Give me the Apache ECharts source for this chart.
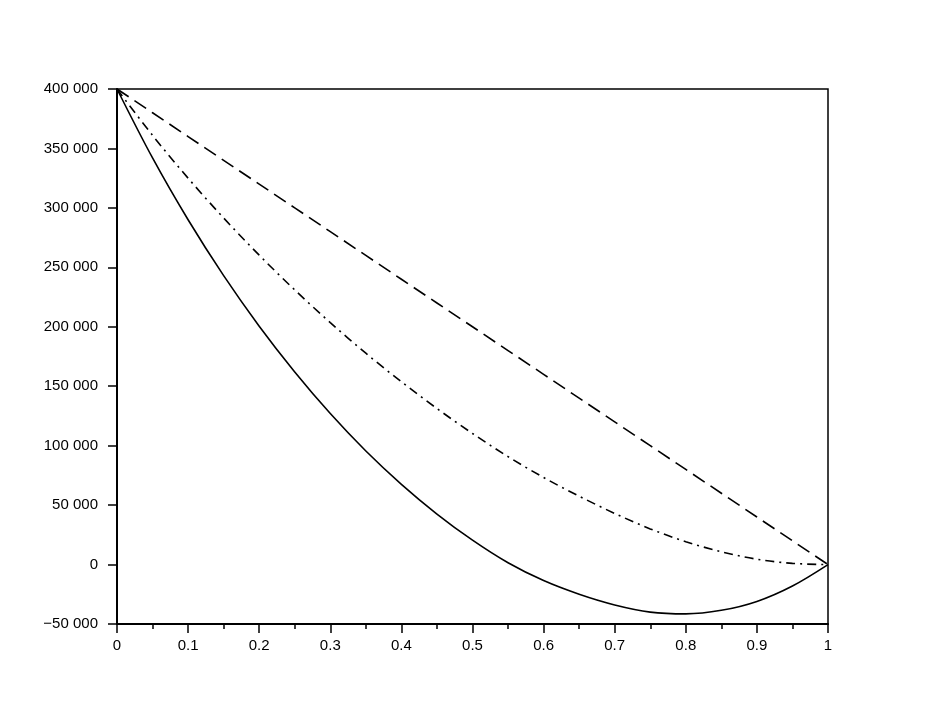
<!DOCTYPE html>
<html>
<head>
<meta charset="utf-8">
<script src="https://cdn.jsdelivr.net/npm/echarts@6/dist/echarts.min.js"></script>
<style>
html,body{margin:0;padding:0;background:#fff;}
#chart{width:947px;height:714px;}
</style>
</head>
<body>
<div id="chart"></div>
<script>
// x positions (fraction)
const xValues = [0,0.05,0.1,0.15,0.2,0.25,0.3,0.35,0.4,0.45,0.5,0.55,0.6,0.65,0.7,0.75,0.8,0.85,0.9,0.95,1];
// dashed curve
const dashedValues = [400000,380000,360000,340000,320000,300000,280000,260000,240000,220000,200000,180000,160000,140000,120000,100000,80000,60000,40000,20000,0];
// dash-dot curve
const dashDotValues = [400000,361000,325000,291500,260250,231000,203500,177750,153750,131250,110250,90750,73250,57500,43000,30000,19250,10750,4500,1000,0];
// solid curve
const solidValues = [400000,342000,290000,243000,200500,162000,127000,95500,67500,42500,20500,1500,-13500,-25000,-34000,-40000,-41500,-38500,-31000,-18000,0];
// axis ticks
const xTicks = [0,0.1,0.2,0.3,0.4,0.5,0.6,0.7,0.8,0.9,1];
const yTicks = [-50000,0,50000,100000,150000,200000,250000,300000,350000,400000];

function pairs(vals){ return xValues.map((x,i)=>[x, vals[i]]); }
function fmtY(v){
  const neg = v < 0;
  let s = String(Math.abs(v)).replace(/\B(?=(\d{3})+(?!\d))/g, ' ');
  return (neg ? '\u2212' : '') + s;
}

const chart = echarts.init(document.getElementById('chart'), null, {renderer:'canvas'});
const font = 'Liberation Sans, Arial, Helvetica, sans-serif';
chart.setOption({
  animation:false,
  backgroundColor:'#fff',
  grid:{left:117,right:119,top:89,bottom:90,show:true,borderColor:'#000',borderWidth:1.5,backgroundColor:'transparent'},
  xAxis:{
    type:'value', min:xTicks[0], max:xTicks[xTicks.length-1], interval:0.1,
    axisLine:{show:true,onZero:false,lineStyle:{color:'#000',width:2}},
    axisTick:{show:true,inside:false,length:9,lineStyle:{color:'#000',width:1.5}},
    minorTick:{show:true,splitNumber:2,length:5,lineStyle:{color:'#000',width:1.5}},
    splitLine:{show:false},
    axisLabel:{color:'#000',fontSize:15,fontFamily:font,margin:14,
      formatter:v=>String(Math.round(v*10)/10)}
  },
  yAxis:{
    type:'value', min:yTicks[0], max:yTicks[yTicks.length-1], interval:50000,
    axisLine:{show:true,onZero:false,lineStyle:{color:'#000',width:2}},
    axisTick:{show:true,inside:false,length:9,lineStyle:{color:'#000',width:1.5}},
    splitLine:{show:false},
    axisLabel:{color:'#000',fontSize:15,fontFamily:font,margin:19,formatter:fmtY}
  },
  series:[
    {type:'line',data:pairs(dashedValues),showSymbol:false,symbol:'none',
     lineStyle:{color:'#000',width:1.6,type:[14,7]}},
    {type:'line',data:pairs(dashDotValues),showSymbol:false,symbol:'none',smooth:0.33,
     lineStyle:{color:'#000',width:1.6,type:[9,5,2,5]}},
    {type:'line',data:pairs(solidValues),showSymbol:false,symbol:'none',smooth:0.33,
     lineStyle:{color:'#000',width:1.6,type:'solid'}}
  ]
});
</script>
</body>
</html>
